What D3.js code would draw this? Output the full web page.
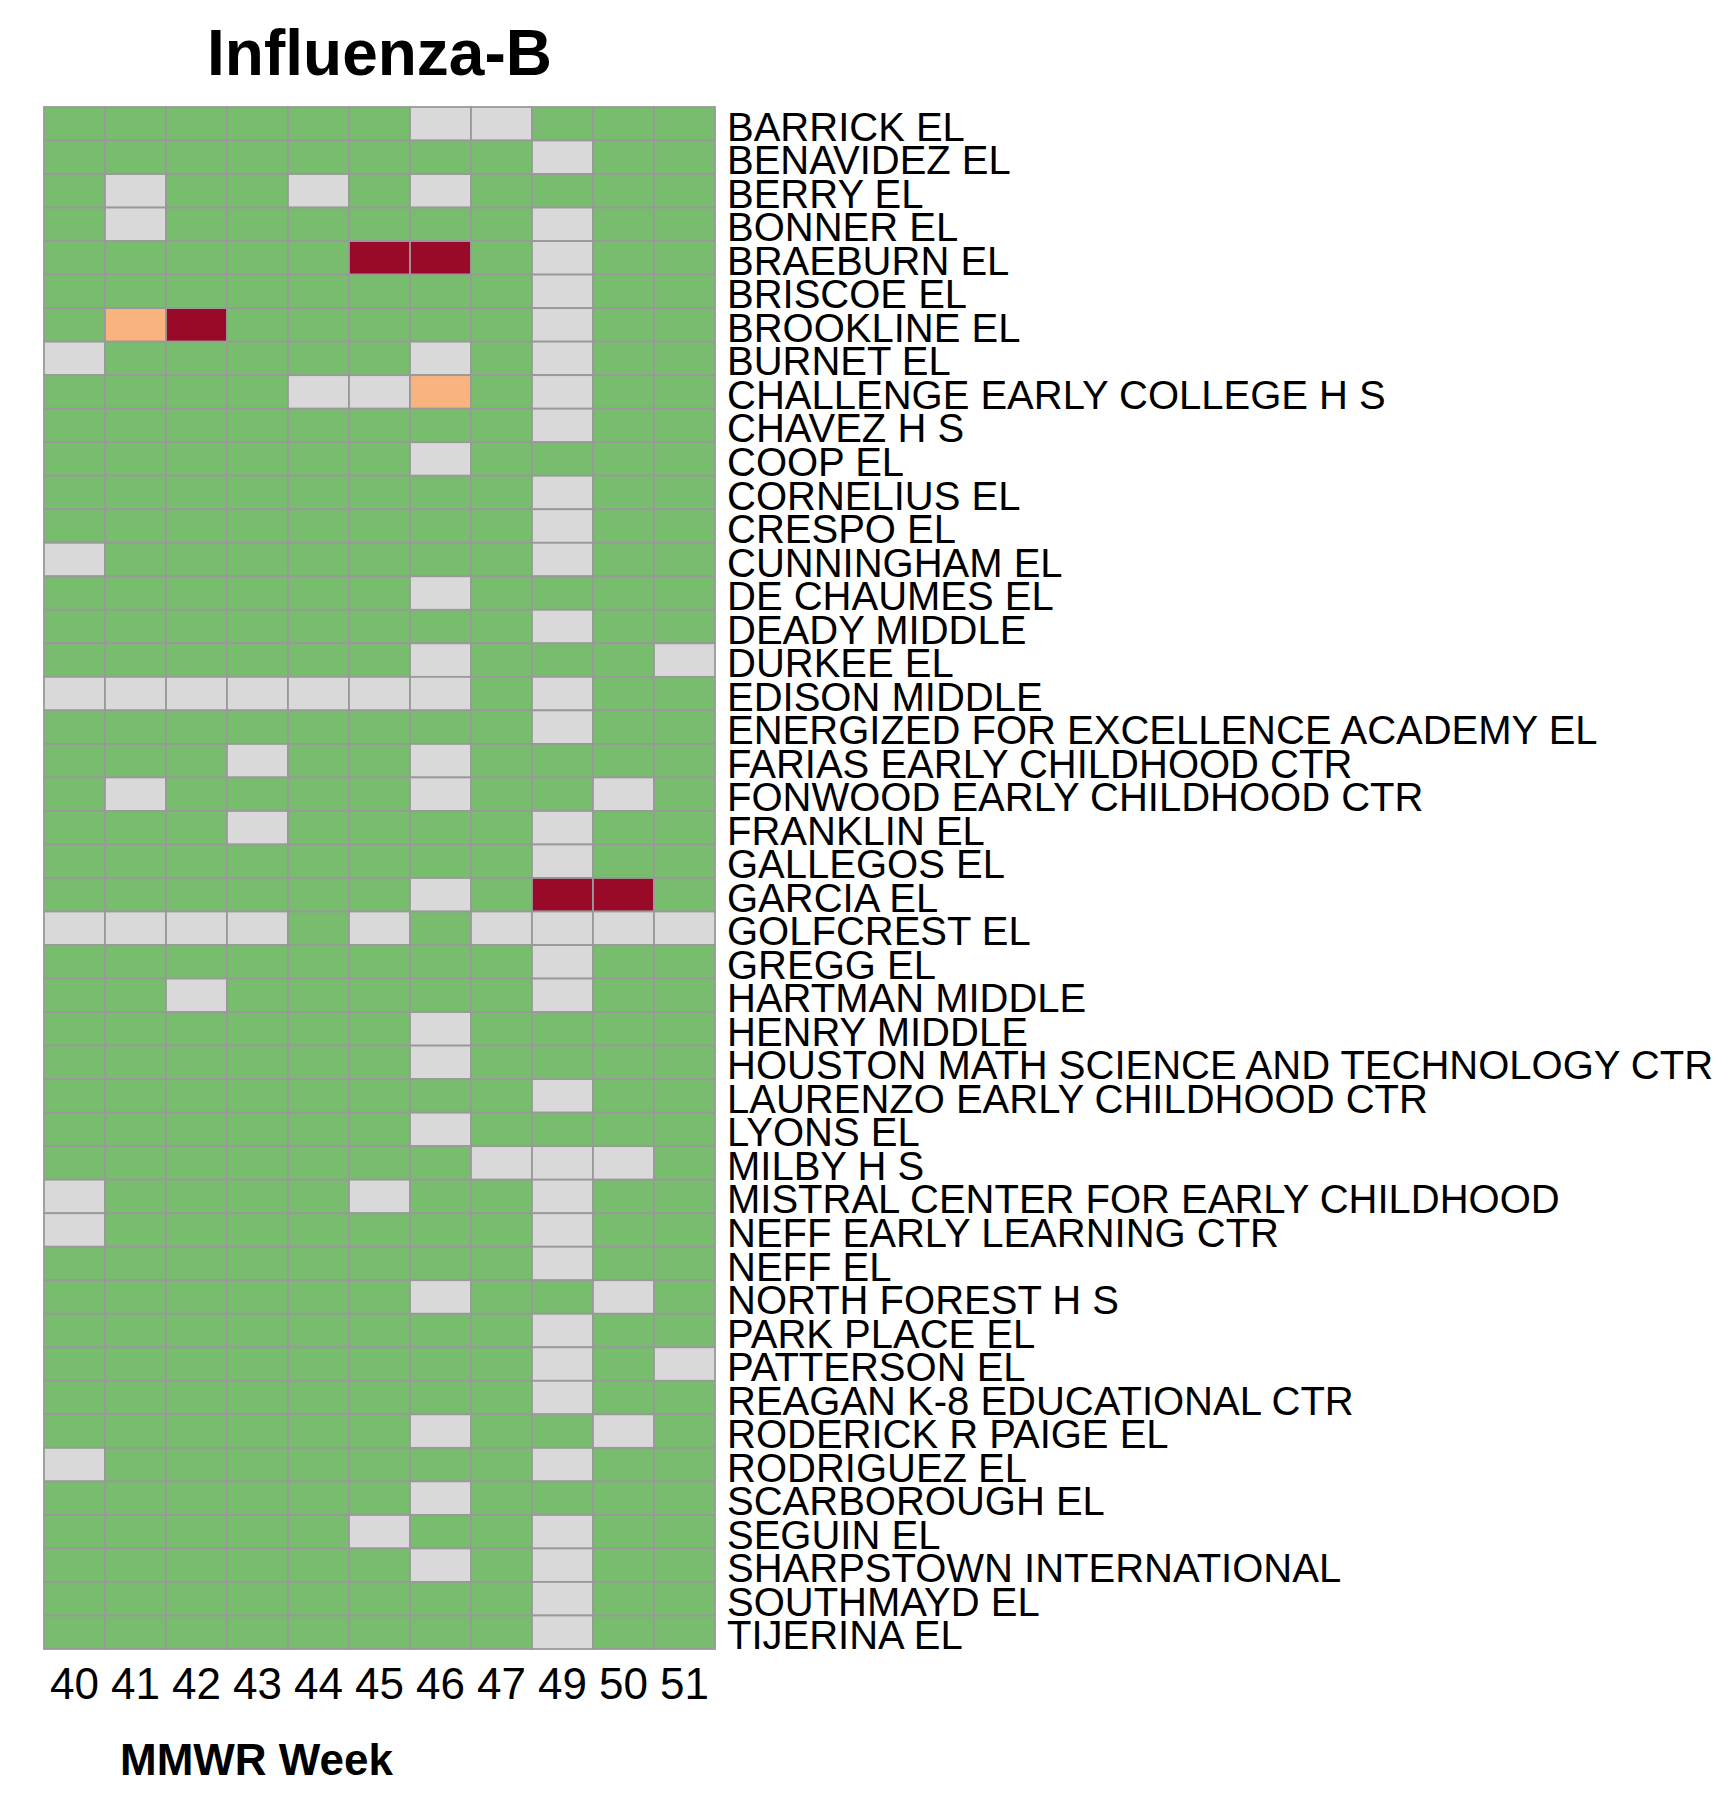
<!DOCTYPE html>
<html lang="en">
    <head>
        <meta charset="utf-8">
        <title>Influenza-B</title>
        <script src="https://d3js.org/d3.v7.min.js"></script>
        <style type="text/css">
          body {
            margin: 0;
            background: #fff;
          }
          text {
            font-family: "Liberation Sans", Arial, sans-serif;
            fill: #000;
          }
          .cell {
            stroke: #999999;
            stroke-width: 1.8;
          }
          .title, .axis-title {
            font-weight: bold;
          }
        </style>
    </head>
    <body>
        <script type="text/javascript">

         // MMWR weeks shown (48 missing in the source)
         var weeks = ["40", "41", "42", "43", "44", "45", "46", "47", "49", "50", "51"];

         var schools = [
             "BARRICK EL", "BENAVIDEZ EL", "BERRY EL", "BONNER EL", "BRAEBURN EL",
             "BRISCOE EL", "BROOKLINE EL", "BURNET EL", "CHALLENGE EARLY COLLEGE H S",
             "CHAVEZ H S", "COOP EL", "CORNELIUS EL", "CRESPO EL", "CUNNINGHAM EL",
             "DE CHAUMES EL", "DEADY MIDDLE", "DURKEE EL", "EDISON MIDDLE",
             "ENERGIZED FOR EXCELLENCE ACADEMY EL", "FARIAS EARLY CHILDHOOD CTR",
             "FONWOOD EARLY CHILDHOOD CTR", "FRANKLIN EL", "GALLEGOS EL", "GARCIA EL",
             "GOLFCREST EL", "GREGG EL", "HARTMAN MIDDLE", "HENRY MIDDLE",
             "HOUSTON MATH SCIENCE AND TECHNOLOGY CTR", "LAURENZO EARLY CHILDHOOD CTR",
             "LYONS EL", "MILBY H S", "MISTRAL CENTER FOR EARLY CHILDHOOD",
             "NEFF EARLY LEARNING CTR", "NEFF EL", "NORTH FOREST H S", "PARK PLACE EL",
             "PATTERSON EL", "REAGAN K-8 EDUCATIONAL CTR", "RODERICK R PAIGE EL",
             "RODRIGUEZ EL", "SCARBOROUGH EL", "SEGUIN EL", "SHARPSTOWN INTERNATIONAL",
             "SOUTHMAYD EL", "TIJERINA EL"
         ];

         // 0 = no report, 1 = low, 2 = moderate, 3 = high
         var levels = [
             [1,1,1,1,1,1,0,0,1,1,1],
             [1,1,1,1,1,1,1,1,0,1,1],
             [1,0,1,1,0,1,0,1,1,1,1],
             [1,0,1,1,1,1,1,1,0,1,1],
             [1,1,1,1,1,3,3,1,0,1,1],
             [1,1,1,1,1,1,1,1,0,1,1],
             [1,2,3,1,1,1,1,1,0,1,1],
             [0,1,1,1,1,1,0,1,0,1,1],
             [1,1,1,1,0,0,2,1,0,1,1],
             [1,1,1,1,1,1,1,1,0,1,1],
             [1,1,1,1,1,1,0,1,1,1,1],
             [1,1,1,1,1,1,1,1,0,1,1],
             [1,1,1,1,1,1,1,1,0,1,1],
             [0,1,1,1,1,1,1,1,0,1,1],
             [1,1,1,1,1,1,0,1,1,1,1],
             [1,1,1,1,1,1,1,1,0,1,1],
             [1,1,1,1,1,1,0,1,1,1,0],
             [0,0,0,0,0,0,0,1,0,1,1],
             [1,1,1,1,1,1,1,1,0,1,1],
             [1,1,1,0,1,1,0,1,1,1,1],
             [1,0,1,1,1,1,0,1,1,0,1],
             [1,1,1,0,1,1,1,1,0,1,1],
             [1,1,1,1,1,1,1,1,0,1,1],
             [1,1,1,1,1,1,0,1,3,3,1],
             [0,0,0,0,1,0,1,0,0,0,0],
             [1,1,1,1,1,1,1,1,0,1,1],
             [1,1,0,1,1,1,1,1,0,1,1],
             [1,1,1,1,1,1,0,1,1,1,1],
             [1,1,1,1,1,1,0,1,1,1,1],
             [1,1,1,1,1,1,1,1,0,1,1],
             [1,1,1,1,1,1,0,1,1,1,1],
             [1,1,1,1,1,1,1,0,0,0,1],
             [0,1,1,1,1,0,1,1,0,1,1],
             [0,1,1,1,1,1,1,1,0,1,1],
             [1,1,1,1,1,1,1,1,0,1,1],
             [1,1,1,1,1,1,0,1,1,0,1],
             [1,1,1,1,1,1,1,1,0,1,1],
             [1,1,1,1,1,1,1,1,0,1,0],
             [1,1,1,1,1,1,1,1,0,1,1],
             [1,1,1,1,1,1,0,1,1,0,1],
             [0,1,1,1,1,1,1,1,0,1,1],
             [1,1,1,1,1,1,0,1,1,1,1],
             [1,1,1,1,1,0,1,1,0,1,1],
             [1,1,1,1,1,1,0,1,0,1,1],
             [1,1,1,1,1,1,1,1,0,1,1],
             [1,1,1,1,1,1,1,1,0,1,1]
         ];

         var levelColors = ["#D9D9D9", "#78BD6E", "#F9B37F", "#990A28"];

         var w = 1728;
         var h = 1801;
         var grid = {left: 44, top: 107, right: 715, bottom: 1649};

         var x = d3.scaleBand()
                   .domain(weeks)
                   .range([grid.left, grid.right]);

         var y = d3.scaleBand()
                   .domain(schools)
                   .range([grid.top, grid.bottom]);

         var color = d3.scaleOrdinal()
                       .domain([0, 1, 2, 3])
                       .range(levelColors);

         var svg = d3.select("body")
                     .append("svg")
                     .attr("width", w)
                     .attr("height", h);

         var cells = [];
         schools.forEach(function (s, i) {
             weeks.forEach(function (wk, j) {
                 cells.push({school: s, week: wk, level: levels[i][j]});
             });
         });

         svg.append("g")
            .selectAll("rect")
            .data(cells)
            .enter()
            .append("rect")
            .attr("class", "cell")
            .attr("x", function (d) { return x(d.week); })
            .attr("y", function (d) { return y(d.school); })
            .attr("width", x.bandwidth())
            .attr("height", y.bandwidth())
            .attr("fill", function (d) { return color(d.level); });

         // row labels (they touch each other in the original too)
         svg.append("g")
            .selectAll("text")
            .data(schools)
            .enter()
            .append("text")
            .attr("x", grid.right + 12)
            .attr("y", function (d) { return y(d) + y.bandwidth() / 2 + 17; })
            .style("font-size", "40px")
            .text(function (d) { return d; });

         // column labels
         svg.append("g")
            .selectAll("text")
            .data(weeks)
            .enter()
            .append("text")
            .attr("x", function (d) { return x(d) + x.bandwidth() / 2; })
            .attr("y", 1699)
            .attr("text-anchor", "middle")
            .style("font-size", "44px")
            .text(function (d) { return d; });

         svg.append("text")
            .attr("class", "title")
            .attr("x", (grid.left + grid.right) / 2)
            .attr("y", 75)
            .attr("text-anchor", "middle")
            .style("font-size", "64px")
            .text("Influenza-B");

         svg.append("text")
            .attr("class", "axis-title")
            .attr("x", 120)
            .attr("y", 1775)
            .style("font-size", "44px")
            .text("MMWR Week");

        </script>
    </body>
</html>
